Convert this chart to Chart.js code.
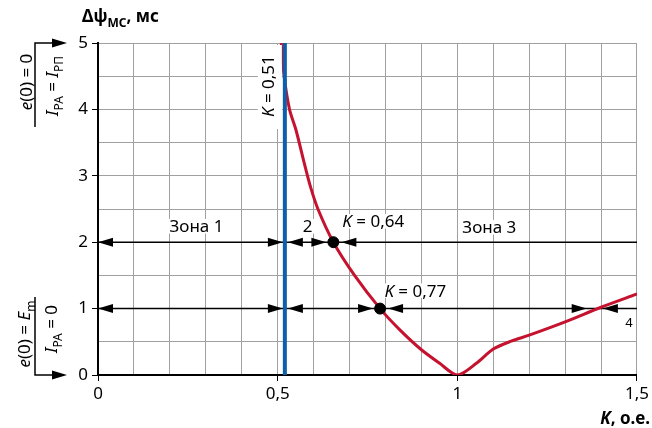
<!DOCTYPE html>
<html lang="ru">
<head>
<meta charset="UTF-8">
<title>Δψ МС от K</title>
<style>
    body { margin: 0; padding: 0; background: #fff; }
    #wrap { width: 652px; height: 428px; }
</style>
</head>
<body>
<div id="wrap"><canvas id="chart" width="652" height="428"></canvas></div>

<script src="https://cdn.jsdelivr.net/npm/chart.js"></script>
<script>
// data
const kValues    = [0.51, 0.518, 0.533, 0.551, 0.574, 0.591, 0.612, 0.655, 0.714, 0.785, 0.84, 0.9, 0.95, 1.0, 1.054, 1.1, 1.15, 1.2, 1.3, 1.4, 1.5];
const dpsiValues = [5.0, 4.5, 4.0, 3.69, 3.19, 2.84, 2.5, 2.0, 1.5, 1.0, 0.68, 0.38, 0.18, 0.0, 0.18, 0.39, 0.51, 0.6, 0.8, 1.02, 1.22];
const kBoundary = 0.52;          // blue line, K = 0,51
const markerK = [0.655, 0.785];  // K = 0,64 and K = 0,77
const markerPsi = [2, 1];
const zoneLevels = [2, 1];
const zone4K = [1.36, 1.405];    // arrows around zone 4
const xLabelTicks = [0, 0.5, 1, 1.5];
const yLabelTicks = [0, 1, 2, 3, 4, 5];

const FONT = '"Noto Sans", "DejaVu Sans", sans-serif';
const near = (v, list) => list.some(t => Math.abs(t - v) < 1e-6);
const fmt = v => String(Math.round(v * 10) / 10).replace('.', ',');

// text made of pieces: [text, flags]  i = italic, s = subscript
function rich(ctx, parts, x, y, size, align, weight) {
    const fontOf = f => (f.includes('i') ? 'italic ' : '') + (weight || 'normal') + ' ' +
        (f.includes('s') ? Math.round(size * 0.72) : size) + 'px ' + FONT;
    let w = 0;
    const ws = parts.map(p => { ctx.font = fontOf(p[1] || ''); const m = ctx.measureText(p[0]).width; w += m; return m; });
    let cx = align === 'center' ? x - w / 2 : align === 'right' ? x - w : x;
    const left = cx;
    ctx.textAlign = 'left';
    ctx.textBaseline = 'alphabetic';
    parts.forEach((p, i) => {
        const f = p[1] || '';
        ctx.font = fontOf(f);
        ctx.fillText(p[0], cx, y + (f.includes('s') ? size * 0.28 : 0));
        cx += ws[i];
    });
    return { left: left, width: w };
}

function arrowHead(ctx, xTip, y, dir) {
    // dir -1: points left, +1: points right
    ctx.beginPath();
    ctx.moveTo(xTip, y);
    ctx.lineTo(xTip - dir * 15, y - 4.5);
    ctx.lineTo(xTip - dir * 15, y + 4.5);
    ctx.closePath();
    ctx.fill();
}

function boxedText(ctx, parts, x, baseline, size, align) {
    ctx.fillStyle = '#000';
    ctx.globalAlpha = 0;
    const r = rich(ctx, parts, x, baseline, size, align);
    ctx.globalAlpha = 1;
    ctx.fillStyle = '#fff';
    ctx.fillRect(r.left - 3, baseline - size * 0.78, r.width + 6, size * 0.86);
    ctx.fillStyle = '#000';
    rich(ctx, parts, x, baseline, size, align);
}

const decor = {
    id: 'decor',
    afterDatasetsDraw(chart) {
        const ctx = chart.ctx;
        const ca = chart.chartArea;
        const xs = chart.scales.x, ys = chart.scales.y;
        ctx.save();
        ctx.fillStyle = '#000';

        // arrow heads on the zone lines
        const xb = xs.getPixelForValue(kBoundary);
        zoneLevels.forEach((lv, i) => {
            const py = ys.getPixelForValue(lv);
            const xm = xs.getPixelForValue(markerK[i]);
            arrowHead(ctx, xs.getPixelForValue(0), py, -1);
            arrowHead(ctx, xb - 2, py, 1);
            arrowHead(ctx, xb + 3, py, -1);
            arrowHead(ctx, xm - 7, py, 1);
            arrowHead(ctx, xm + 8, py, -1);
        });
        const p1 = ys.getPixelForValue(1);
        arrowHead(ctx, xs.getPixelForValue(zone4K[0]), p1, 1);
        arrowHead(ctx, xs.getPixelForValue(zone4K[1]), p1, -1);

        // labels
        const p2 = ys.getPixelForValue(2);
        boxedText(ctx, [['Зона 1']], xs.getPixelForValue(0.274), p2 - 10, 17, 'center');
        boxedText(ctx, [['2']], xs.getPixelForValue(0.583), p2 - 10, 17, 'center');
        boxedText(ctx, [['K', 'i'], [' = 0,64']], xs.getPixelForValue(0.68), p2 - 15, 17, 'left');
        boxedText(ctx, [['Зона 3']], xs.getPixelForValue(1.089), p2 - 9, 17, 'center');
        boxedText(ctx, [['K', 'i'], [' = 0,77']], xs.getPixelForValue(0.797), p1 - 12, 17, 'left');
        boxedText(ctx, [['4']], xs.getPixelForValue(1.478), p1 + 18, 13, 'center');

        // K = 0,51, vertical
        ctx.fillStyle = '#fff';
        ctx.fillRect(xb - 27, ca.top + 2, 24, 84);
        ctx.fillStyle = '#000';
        ctx.save();
        ctx.translate(xb - 17, ys.getPixelForValue(4.35));
        ctx.rotate(-Math.PI / 2);
        rich(ctx, [['K', 'i'], [' = 0,51']], 0, 6, 17, 'center');
        ctx.restore();

        // axis titles
        rich(ctx, [['Δψ'], ['МС', 's'], [', мс']], 82, 22, 17, 'left', 'bold');
        rich(ctx, [['K', 'i'], [', о.е.']], 650, 424, 17, 'right', 'bold');

        // left side conditions with arrows
        const yTop = ys.getPixelForValue(5), yBot = ys.getPixelForValue(0);
        ctx.strokeStyle = '#000';
        ctx.lineWidth = 1.5;
        ctx.beginPath();
        ctx.moveTo(35, yTop + 84); ctx.lineTo(35, yTop); ctx.lineTo(54, yTop);
        ctx.moveTo(35, yBot - 78); ctx.lineTo(35, yBot); ctx.lineTo(54, yBot);
        ctx.stroke();
        arrowHead(ctx, 67, yTop, 1);
        arrowHead(ctx, 67, yBot, 1);

        const vtext = (parts, cx, cy) => {
            ctx.save();
            ctx.translate(cx, cy);
            ctx.rotate(-Math.PI / 2);
            rich(ctx, parts, 0, 6, 17, 'center');
            ctx.restore();
        };
        vtext([['e', 'i'], ['(0) = 0']], 26, 82);
        vtext([['I', 'i'], ['PA', 's'], [' = '], ['I', 'i'], ['РП', 's']], 52, 86);
        vtext([['e', 'i'], ['(0) = '], ['E', 'i'], ['m', 's']], 24, 334);
        vtext([['I', 'i'], ['PA', 's'], [' = 0']], 51, 329);

        ctx.restore();
    }
};

const curve = kValues.map((k, i) => ({ x: k, y: dpsiValues[i] }));
const zoneLines = zoneLevels.map(lv => ({
    data: [{ x: 0, y: lv }, { x: 1.5, y: lv }],
    borderColor: '#000', borderWidth: 1.5, pointRadius: 0, showLine: true, order: 3
}));

new Chart(document.getElementById('chart'), {
    type: 'scatter',
    data: {
        datasets: [
            {
                data: markerK.map((k, i) => ({ x: k, y: markerPsi[i] })),
                backgroundColor: '#000', borderColor: '#000', pointRadius: 5.5, order: 0
            },
            {
                data: [{ x: kBoundary, y: 0 }, { x: kBoundary, y: 5 }],
                borderColor: '#0b5fab', borderWidth: 4, pointRadius: 0, showLine: true, order: 1
            },
            {
                data: curve,
                borderColor: '#c4122f', borderWidth: 3, pointRadius: 0, showLine: true,
                tension: 0.3, order: 2
            },
            ...zoneLines
        ]
    },
    options: {
        responsive: false,
        animation: false,
        layout: { padding: { top: 43, right: 14, left: 0, bottom: 0 } },
        plugins: { legend: { display: false }, tooltip: { enabled: false } },
        scales: {
            x: {
                type: 'linear', min: 0, max: 1.5,
                afterFit(scale) { scale.height = 53; },
                border: { color: '#000', width: 2 },
                grid: {
                    color: '#a0a0a0', lineWidth: 1, tickLength: 6,
                    tickColor: c => near(c.tick.value, xLabelTicks) ? '#000' : 'rgba(0,0,0,0)'
                },
                ticks: {
                    stepSize: 0.1, autoSkip: false, maxRotation: 0, padding: 3,
                    color: '#000', font: { family: FONT, size: 17 },
                    callback: v => near(v, xLabelTicks) ? fmt(v) : ''
                }
            },
            y: {
                type: 'linear', min: 0, max: 5,
                afterFit(scale) { scale.width = 98; },
                border: { color: '#000', width: 2 },
                grid: {
                    color: '#a0a0a0', lineWidth: 1, tickLength: 6,
                    tickColor: c => near(c.tick.value, yLabelTicks) ? '#000' : 'rgba(0,0,0,0)'
                },
                ticks: {
                    stepSize: 0.5, autoSkip: false, padding: 4,
                    color: '#000', font: { family: FONT, size: 17 },
                    callback: v => near(v, yLabelTicks) ? fmt(v) : ''
                }
            }
        }
    },
    plugins: [decor]
});
</script>
</body>
</html>
